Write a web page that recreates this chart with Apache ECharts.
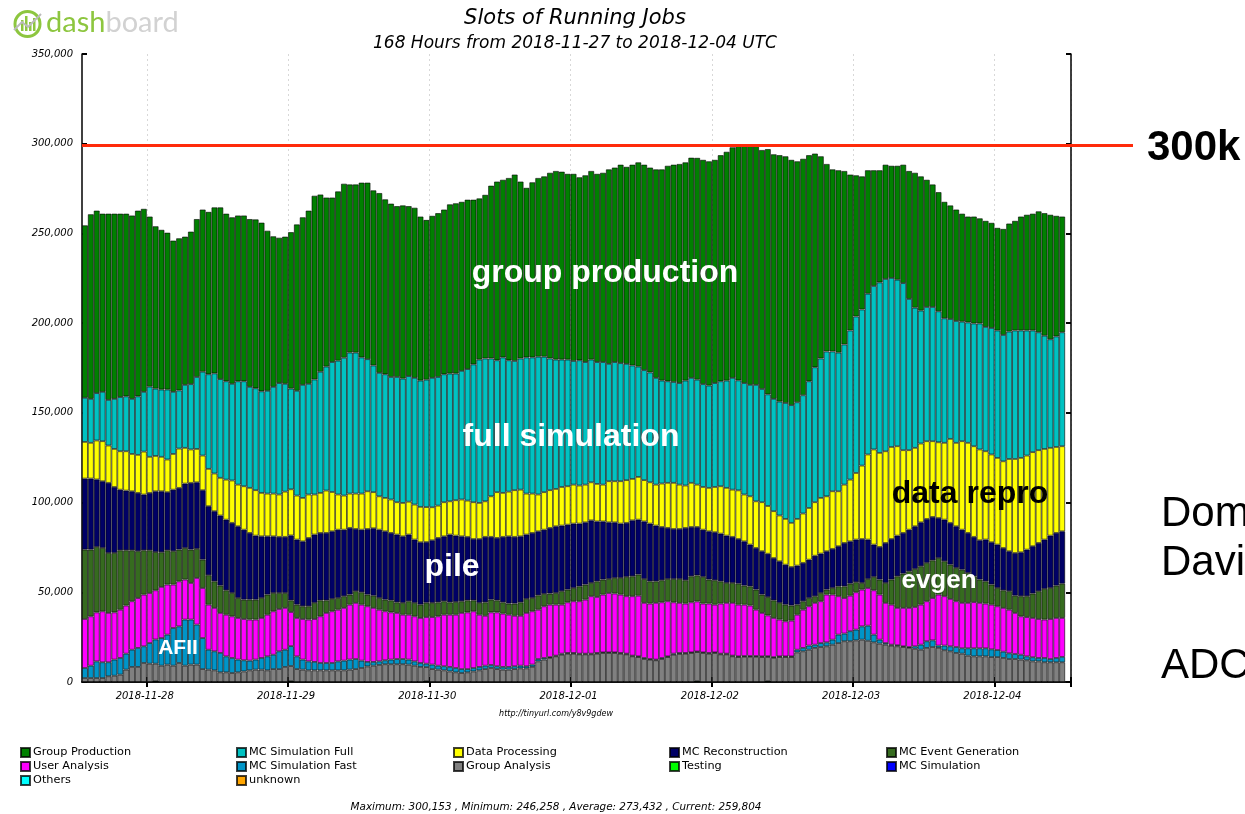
<!DOCTYPE html>
<html><head><meta charset="utf-8">
<script src="https://cdn.jsdelivr.net/npm/echarts@6/dist/echarts.min.js"></script>
<style>html,body{margin:0;padding:0;background:#fff;}#c{width:1245px;height:814px;}</style>
</head><body><div id="c"></div>
<script>
// ---------- data (values in thousands of slots, one bar per hour) ----------
const startHourUTC = '2018-11-27T13:00:00Z';
const nHours = 168;
const dayTickLabels = ['2018-11-28','2018-11-29','2018-11-30','2018-12-01','2018-12-02','2018-12-03','2018-12-04'];
const dayTickIndex = [11,35,59,83,107,131,155];
const yTickValues = [0,50,100,150,200,250,300,350];

const testing = [];
const testingBars = [12,35,58,104,116];
const testingVals = [0.5,0.5,0.5,0.5,0.5];

const groupAnalysis = [2.2,2.2,2.2,2.2,3.2,3.5,4.1,6.9,8.4,8.4,
10.6,10.2,9.7,9.1,9.7,9.1,10.6,9.1,9.7,9.7,
7.2,6.9,6.5,5.4,5.4,5.0,5.4,5.9,6.5,6.9,
6.9,6.5,7.2,7.2,8.4,8.4,7.2,6.9,6.5,6.5,
6.5,6.5,6.5,6.5,6.5,6.9,7.2,7.8,8.7,9.1,
9.5,9.9,9.9,9.9,9.9,9.7,9.1,8.4,7.8,7.2,
6.9,6.5,5.9,5.4,5.0,5.4,5.9,6.5,7.2,7.8,
7.2,6.9,6.9,7.2,7.6,7.6,8.4,11.5,12.5,13.4,
14.3,15.2,15.8,15.8,15.4,15.4,15.4,15.8,16.2,16.2,
16.2,15.8,15.4,14.3,13.9,12.8,12.5,12.1,12.8,13.9,
15.2,15.6,15.8,16.2,16.2,16.2,15.8,16.2,15.4,15.4,
14.3,13.9,14.0,14.0,14.0,13.9,13.4,13.4,13.9,13.9,
13.9,16.5,17.1,18.0,19.0,19.5,19.9,20.8,21.7,22.7,
22.7,23.2,23.6,23.0,22.1,21.4,20.8,20.3,19.9,19.5,
19.0,18.5,18.0,19.0,19.5,19.0,17.7,17.1,16.2,15.8,
14.7,14.3,14.3,14.3,13.9,13.9,13.4,12.8,12.8,12.5,
12.1,11.5,11.5,11.0,11.0,11.0,11.0];

const simFast = [5.6,6.9,9.3,8.8,7.8,9.0,9.3,8.9,9.6,10.6,
9.3,11.5,13.5,15.4,16.7,21.0,20.4,25.7,25.1,22.3,
17.3,11.1,10.6,10.8,8.9,8.4,7.1,6.2,5.4,5.6,
6.5,7.8,8.0,9.9,9.6,11.1,7.1,5.6,5.0,4.7,
4.1,4.1,4.1,5.0,5.4,5.6,5.6,4.1,2.5,2.1,
2.0,2.2,2.6,2.9,2.9,2.8,2.4,2.2,1.9,2.5,
2.2,2.3,2.5,2.4,2.2,1.8,1.9,1.9,1.9,1.7,
1.6,1.5,1.5,1.6,1.5,1.2,1.3,1.3,0.9,0.5,
0.4,0.6,0.4,0.4,0.4,0.4,0.4,0.4,0.3,0.3,
0.3,0.4,0.4,0.4,0.4,0.6,0.3,0.4,0.6,0.4,
0.6,0.6,0.4,0.3,0.3,0.3,0.4,0.3,0.4,0.4,
0.4,0.4,0.5,0.5,0.5,0.4,0.5,0.5,0.4,0.4,
0.4,1.5,1.9,2.3,1.8,2.2,2.2,2.8,4.7,4.3,
5.6,6.0,7.4,8.4,4.3,2.2,0.9,0.5,0.6,0.4,
0.5,1.4,2.8,3.7,3.7,1.3,2.6,2.8,3.3,3.0,
4.1,4.5,4.5,4.5,4.3,3.9,3.5,3.2,2.8,2.7,
2.2,2.3,1.9,2.4,1.8,2.4,3.0];

const userAnalysis = [27.3,27.5,27.3,28.4,27.5,26.3,26.9,26.8,27.0,27.8,
28.8,27.9,27.4,28.5,27.9,24.2,25.1,22.3,20.4,26.0,
27.9,25.1,24.2,22.3,23.2,23.2,23.2,23.0,22.9,22.3,
22.3,23.2,24.2,23.6,23.3,19.0,21.4,22.6,23.3,23.9,
26.0,27.9,28.8,28.8,29.4,30.6,31.3,31.2,31.0,30.1,
28.8,27.3,26.3,25.7,24.7,25.0,25.1,25.1,26.0,26.5,
27.5,28.7,29.1,29.7,31.3,31.6,31.6,29.1,27.8,29.3,
30.0,29.7,29.1,28.1,27.8,29.7,29.7,27.5,28.8,29.2,
28.4,27.3,28.2,28.8,29.2,30.1,32.0,31.2,32.2,33.1,
32.8,32.5,32.0,33.1,33.8,30.7,30.9,31.6,31.0,30.7,
28.6,27.9,27.5,27.9,27.9,27.2,27.5,26.6,27.9,28.3,
29.4,28.8,28.6,28.1,25.8,24.2,22.7,21.8,20.5,19.5,
19.9,19.5,21.3,21.9,23.3,23.3,26.6,25.1,21.4,19.8,
19.8,20.8,20.5,21.0,24.7,25.1,22.4,22.3,20.8,21.4,
21.8,21.9,22.3,22.3,23.6,28.4,27.5,26.4,25.5,25.3,
25.3,25.7,25.3,24.9,24.9,24.4,24.4,24.3,22.9,21.4,
21.9,21.9,21.7,21.4,22.3,22.3,21.7];

const evgen = [38.7,37.2,36.5,35.3,33.4,33.1,33.1,30.8,28.4,26.1,
24.7,23.8,21.3,19.3,19.1,18.6,17.7,17.6,18.6,16.2,
15.8,16.4,14.8,15.2,13.6,13.0,11.1,10.8,11.1,11.1,
11.1,11.2,10.2,8.9,8.3,6.5,7.4,7.1,7.4,9.0,
8.9,7.0,6.9,6.5,6.5,5.6,6.5,6.9,6.5,6.8,
6.5,6.5,6.7,5.9,6.6,7.5,7.5,7.4,8.0,7.9,
7.8,7.5,6.9,7.1,6.5,6.7,6.1,6.6,7.5,7.1,
6.7,6.3,6.2,6.8,7.5,7.8,7.4,8.0,6.9,6.2,
6.5,7.5,7.1,7.4,8.3,8.4,7.4,8.7,8.4,7.8,
8.7,9.3,10.8,11.1,11.8,13.3,12.4,12.0,12.3,12.4,
13.0,13.3,13.0,14.5,14.5,14.9,13.4,13.6,12.4,11.1,
11.1,11.7,10.6,10.7,11.2,10.2,10.2,9.8,9.3,9.3,
8.4,5.6,4.7,4.6,3.7,4.6,2.8,3.7,5.5,6.5,
6.7,5.6,3.7,5.0,7.5,8.4,11.1,14.0,17.6,19.1,
20.4,21.2,21.4,21.4,21.0,20.4,19.5,19.1,18.6,18.5,
16.7,14.4,13.0,12.4,11.2,10.2,9.8,10.3,9.6,11.2,
11.6,13.6,15.5,17.1,17.3,18.0,19.1];

const reco = [39.6,39.6,37.6,37.2,39.1,36.8,33.8,33.3,32.9,32.5,
31.1,32.0,33.9,34.0,32.4,34.3,34.4,35.9,37.2,37.1,
38.7,38.5,39.1,39.1,39.4,39.1,40.0,39.0,37.2,35.7,
34.4,32.5,31.6,31.3,31.3,36.2,36.3,36.2,38.1,38.1,
37.6,37.6,37.7,38.1,37.1,37.2,34.7,34.9,36.6,37.6,
38.1,38.1,37.6,37.8,37.1,37.2,35.3,34.8,33.8,34.9,
35.9,36.2,37.8,37.0,36.2,35.4,34.2,35.6,36.5,35.0,
34.8,36.5,37.5,37.2,36.8,35.9,36.3,35.7,35.8,36.6,
37.2,36.6,36.2,35.9,35.0,34.7,34.9,33.4,32.4,31.6,
31.0,30.3,30.1,31.2,30.6,32.1,32.2,31.1,29.7,28.5,
27.9,27.9,29.2,27.5,27.0,26.3,26.9,26.8,26.6,26.4,
25.7,24.9,24.7,23.3,23.2,24.2,24.2,23.6,23.2,22.3,
21.5,21.8,21.4,21.4,22.6,22.0,21.4,21.8,22.4,24.2,
23.6,23.8,24.5,22.0,18.0,18.2,22.3,22.6,22.7,22.7,
23.2,23.8,24.5,24.5,24.2,22.3,23.2,23.3,23.2,22.3,
22.3,22.0,21.9,23.3,23.6,24.2,23.6,22.3,23.8,24.5,
26.0,26.4,26.9,27.5,29.2,29.4,29.2];

const dataProc = [20.4,19.9,21.7,22.3,20.8,21.2,21.4,21.9,20.8,21.2,
23.9,20.1,19.7,19.2,18.2,19.9,21.9,19.9,18.6,18.6,
19.3,20.8,21.0,21.0,22.3,23.6,23.2,24.2,25.1,25.3,
24.2,23.8,23.8,23.6,25.2,25.7,24.5,24.2,24.2,22.3,
22.3,23.6,21.9,19.6,19.0,19.1,19.7,20.1,21.0,20.1,
18.6,18.6,18.6,18.0,18.6,18.3,19.5,19.7,19.5,18.4,
18.0,19.0,18.5,19.7,20.5,20.2,20.5,20.1,19.8,22.6,
25.5,24.5,24.9,26.0,26.0,22.8,21.9,20.5,20.9,21.0,
20.8,21.5,21.4,21.7,21.2,21.0,21.2,20.9,20.5,22.9,
22.9,23.6,23.8,23.1,23.8,23.0,23.0,22.8,24.2,25.1,
25.7,24.7,23.6,24.6,23.6,23.8,24.2,25.2,26.4,26.6,
26.3,27.1,26.1,26.9,26.0,27.3,26.6,26.1,25.5,25.5,
24.6,26.0,27.5,28.8,29.8,31.0,30.6,32.1,30.6,32.5,
34.4,37.1,40.9,47.4,53.0,52.4,51.1,51.3,49.8,46.1,
44.3,43.7,43.9,43.3,42.2,42.2,42.8,46.8,46.5,49.3,
50.2,50.5,50.6,49.2,48.9,48.3,48.3,51.4,52.4,52.6,
52.4,52.4,51.7,50.5,48.9,47.9,47.4];

const simFull = [24.6,24.5,26.4,27.5,25.4,27.9,30.2,30.6,30.7,32.6,
33.3,39.1,37.5,37.5,39.0,34.6,32.4,35.1,36.4,40.1,
46.7,52.7,55.8,55.0,54.8,53.9,57.6,58.5,56.3,56.8,
56.6,57.3,59.5,62.1,60.1,56.1,58.4,63.0,61.7,64.1,
67.5,69.1,72.4,74.6,76.8,78.6,78.6,75.9,73.6,70.6,
68.8,68.9,68.3,69.8,69.3,70.0,70.6,70.4,71.0,72.1,
71.7,71.3,71.2,70.6,71.7,73.3,76.8,79.9,79.6,76.8,
73.5,75.5,73.2,72.0,73.1,75.9,75.9,76.8,75.5,73.4,
72.1,71.0,70.6,68.9,69.8,68.3,68.4,67.9,68.3,65.4,
66.4,65.8,64.8,63.2,61.5,61.3,61.2,59.5,57.4,56.6,
56.2,56.6,58.5,58.5,58.5,57.3,57.0,57.9,58.5,59.8,
62.3,61.3,62.1,62.1,64.9,63.1,62.2,62.6,63.5,64.6,
65.6,65.0,65.9,70.6,75.2,77.7,80.7,77.9,77.3,78.1,
83.1,87.2,87.0,89.6,91.1,95.0,96.0,94.2,92.8,93.1,
84.3,78.1,74.1,74.8,74.8,73.0,69.4,66.8,67.9,66.6,
67.1,68.4,70.2,69.3,70.5,71.0,70.4,71.0,71.6,71.0,
69.7,67.8,65.7,63.1,60.5,61.6,63.5];

const groupProd = [96.1,102.9,101.7,99.3,103.8,103.2,102.2,101.8,102.2,103.5,
102.0,94.8,90.5,89.0,87.4,84.3,84.8,82.6,85.0,88.0,
90.4,90.5,92.5,95.7,93.4,92.8,92.4,92.4,93.5,94.1,
94.0,89.2,83.9,81.0,82.0,87.2,92.7,93.4,96.5,102.4,
98.8,94.2,91.7,94.3,97.0,93.7,93.7,97.4,98.4,97.6,
100.2,97.5,96.6,95.2,96.5,94.7,94.8,91.4,89.0,90.3,
91.3,91.8,94.3,94.9,94.2,94.4,91.8,89.8,91.2,96.3,
99.6,99.0,101.6,103.9,98.6,94.5,97.6,99.6,100.5,103.5,
105.1,104.7,103.5,104.3,102.0,104.1,105.1,104.9,105.5,108.4,
108.4,110.6,109.8,111.9,113.8,114.5,114.2,116.2,117.7,120.1,
121.1,122.1,121.6,122.7,123.6,125.0,125.0,124.4,126.0,127.5,
128.5,131.4,132.9,133.9,133.9,133.2,136.7,136.3,137.3,137.5,
136.7,134.3,131.8,126.0,119.1,112.7,104.5,101.5,101.6,96.7,
86.9,78.7,74.2,68.8,64.5,62.5,63.7,62.5,63.5,66.0,
71.3,75.2,74.8,70.9,68.3,66.4,64.9,63.3,62.1,60.2,
59.0,59.6,58.6,59.1,58.6,57.2,59.1,60.2,61.1,63.5,
64.5,65.1,67.4,68.3,69.4,67.2,64.5];

const redLineValue = 299;

// ---------- build ----------
for (let i = 0; i < groupProd.length; i++) {
  const k = testingBars.indexOf(i);
  testing.push(k >= 0 ? testingVals[k] : null);
}
const categories = [];
const t0 = Date.parse(startHourUTC);
for (let h = 0; h < nHours; h++) {
  categories.push(new Date(t0 + h * 3600000).toISOString().slice(0, 13).replace('T', ' ') + ':00');
}

const seriesDefs = [
  ['Testing', '#00ff00', testing],
  ['Group Analysis', '#808080', groupAnalysis],
  ['MC Simulation Fast', '#0095c8', simFast],
  ['User Analysis', '#ff00ff', userAnalysis],
  ['MC Event Generation', '#366b1f', evgen],
  ['MC Reconstruction', '#000066', reco],
  ['Data Processing', '#ffff00', dataProc],
  ['MC Simulation Full', '#00c2c2', simFull],
  ['Group Production', '#008000', groupProd],
  ['MC Simulation', '#0000ff', []],
  ['Others', '#00ffff', []],
  ['unknown', '#ffa500', []]
];

const legendLayout = [
  ['Group Production', 20, 747], ['MC Simulation Full', 236, 747], ['Data Processing', 453, 747], ['MC Reconstruction', 669, 747], ['MC Event Generation', 886, 747],
  ['User Analysis', 20, 761], ['MC Simulation Fast', 236, 761], ['Group Analysis', 453, 761], ['Testing', 669, 761], ['MC Simulation', 886, 761],
  ['Others', 20, 775], ['unknown', 236, 775]
];

const AX = '#000';
const labelFont = { fontFamily: 'DejaVu Sans', fontStyle: 'italic', fontSize: 10, color: '#000' };
const isDayTick = (i) => dayTickIndex.indexOf(i) >= 0;

const chart = echarts.init(document.getElementById('c'), null, { renderer: 'canvas' });

const option = {
  animation: false,
  backgroundColor: '#fff',
  grid: { left: 82, right: 174, top: 54, bottom: 132, containLabel: false },
  legend: legendLayout.map(([name, x, y]) => ({
    data: [name], left: x, top: y, padding: 0, itemGap: 0,
    itemWidth: 9, itemHeight: 9, icon: 'rect', selectedMode: false,
    textStyle: { fontFamily: 'DejaVu Sans', fontSize: 11.3, color: '#000', padding: [0, 0, 0, -2] }
  })),
  xAxis: [
    {
      type: 'category', data: categories, position: 'bottom', boundaryGap: true,
      axisLine: { show: true, lineStyle: { color: AX, width: 1.5 } },
      axisTick: { show: true, inside: true, length: 5, interval: isDayTick, lineStyle: { color: AX, width: 2 } },
      axisLabel: {
        show: true, interval: isDayTick, margin: 9, ...labelFont,
        formatter: (v, i) => { const k = dayTickIndex.indexOf(i); return k >= 0 ? '{d|' + dayTickLabels[k] + '}' : ''; },
        rich: { d: { ...labelFont, padding: [0, 10, 0, 0] } }
      },
      splitLine: { show: true, interval: isDayTick, lineStyle: { color: '#d8d8d8', type: [2, 3], width: 1 } }
    },
    {
      type: 'category', data: categories, position: 'top', boundaryGap: true,
      axisLine: { show: true, lineStyle: { color: AX, width: 1.5 } },
      axisTick: { show: true, inside: true, length: 5, interval: isDayTick, lineStyle: { color: AX, width: 2 } },
      axisLabel: { show: false }, splitLine: { show: false }
    }
  ],
  yAxis: [
    {
      type: 'value', min: yTickValues[0], max: yTickValues[yTickValues.length - 1], interval: 50, position: 'left',
      axisLine: { show: true, lineStyle: { color: AX, width: 1.5 } },
      axisTick: { show: true, inside: true, length: 5, lineStyle: { color: AX, width: 2 } },
      axisLabel: { ...labelFont, margin: 9, formatter: (v) => (v * 1000).toLocaleString('en-US') },
      splitLine: { show: false }
    },
    {
      type: 'value', min: yTickValues[0], max: yTickValues[yTickValues.length - 1], interval: 50, position: 'right',
      axisLine: { show: true, lineStyle: { color: AX, width: 1.5 } },
      axisTick: { show: true, inside: true, length: 5, lineStyle: { color: AX, width: 2 } },
      axisLabel: { show: false }, splitLine: { show: false }
    }
  ],
  series: seriesDefs.map(([name, color, data]) => ({
    name, type: 'bar', stack: 'total', data, xAxisIndex: 0, yAxisIndex: 0,
    barCategoryGap: '0%', barGap: '0%',
    itemStyle: { color, borderColor: 'rgba(0,0,0,0.75)', borderWidth: 0.8 },
    emphasis: { disabled: true }, silent: true
  }))
};
chart.setOption(option);

// ---------- annotations & texts ----------
const redY = chart.convertToPixel({ yAxisIndex: 0 }, redLineValue);
const gridLeft = chart.convertToPixel({ xAxisIndex: 0 }, 0) - 3;

const T = (text, x, y, font, fill, align) => ({
  type: 'text', z: 100,
  style: { text, x, y, font, fill, textAlign: align || 'center', textVerticalAlign: 'middle' }
});
const ann = 'bold 32px "Liberation Sans", Arial, sans-serif';
const logoFont = '29px Lato, "DejaVu Sans", sans-serif';

chart.setOption({
  graphic: [
    // logo
    { type: 'circle', z: 100, shape: { cx: 27.5, cy: 24, r: 12.5 }, style: { fill: 'none', stroke: '#8dc63f', lineWidth: 3 } },
    { type: 'rect', z: 100, shape: { x: 21, y: 20, width: 2.5, height: 11 }, style: { fill: '#8dc63f' } },
    { type: 'rect', z: 100, shape: { x: 25, y: 16, width: 2.5, height: 15 }, style: { fill: '#8dc63f' } },
    { type: 'rect', z: 100, shape: { x: 29, y: 22, width: 2.5, height: 9 }, style: { fill: '#8dc63f' } },
    { type: 'rect', z: 100, shape: { x: 33, y: 18, width: 2.5, height: 13 }, style: { fill: '#8dc63f' } },
    { type: 'polyline', z: 101, shape: { points: [[14, 30], [22, 22], [28, 27], [41, 14]] }, style: { fill: 'none', stroke: '#bbbbbb', lineWidth: 2 } },
    { type: 'text', z: 100, style: { text: '{g|dash}{b|board}', x: 46, y: 23, textVerticalAlign: 'middle',
      rich: { g: { font: logoFont, fill: '#8dc63f' }, b: { font: logoFont, fill: '#d2d2d2' } } } },
    // titles
    T('Slots of Running Jobs', 575, 19, 'italic 21px "DejaVu Sans"', '#000'),
    T('168 Hours from 2018-11-27 to 2018-12-04 UTC', 575, 44, 'italic 17px "DejaVu Sans"', '#000'),
    T('http://tinyurl.com/y8v9gdew', 556, 714, 'italic 8px "DejaVu Sans"', '#000'),
    T('Maximum: 300,153 , Minimum: 246,258 , Average: 273,432 , Current: 259,804', 556, 807, 'italic 10.4px "DejaVu Sans"', '#000'),
    // red 300k line
    { type: 'line', z: 110, shape: { x1: gridLeft, y1: redY, x2: 1133, y2: redY }, style: { stroke: '#ff2a0a', lineWidth: 3 } },
    T('300k', 1147, 148, 'bold 42px "Liberation Sans", Arial, sans-serif', '#000', 'left'),
    // area annotations
    T('group production', 605, 273, ann, '#fff'),
    T('full simulation', 571, 437, ann, '#fff'),
    T('data repro', 970, 494, ann, '#000'),
    T('pile', 452, 567, ann, '#fff'),
    T('evgen', 939, 581, 'bold 26px "Liberation Sans", Arial, sans-serif', '#fff'),
    T('AFII', 178, 648, 'bold 21px "Liberation Sans", Arial, sans-serif', '#fff'),
    // cut-off slide text at right edge
    T('Dom', 1161, 514, '42px "Liberation Sans", Arial, sans-serif', '#000', 'left'),
    T('Davi', 1161, 563, '42px "Liberation Sans", Arial, sans-serif', '#000', 'left'),
    T('ADC', 1161, 666, '42px "Liberation Sans", Arial, sans-serif', '#000', 'left')
  ]
});
</script>
</body></html>
